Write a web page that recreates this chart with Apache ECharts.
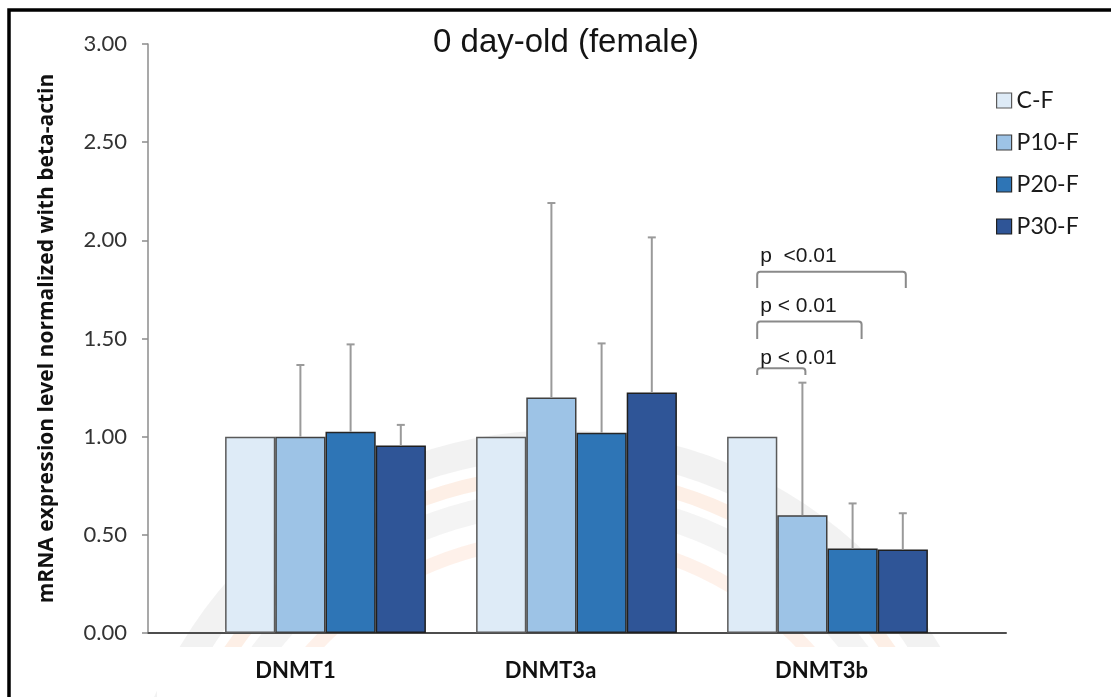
<!DOCTYPE html>
<html>
<head>
<meta charset="utf-8">
<title>0 day-old (female)</title>
<script src="https://cdn.jsdelivr.net/npm/echarts@6/dist/echarts.min.js"></script>
<style>
  html, body { margin: 0; padding: 0; background: #fff; }
  #chart { width: 1111px; height: 697px; }
</style>
</head>
<body>
<div id="chart"></div>
<script>
// Genes on the x axis
const categories = ['DNMT1', 'DNMT3a', 'DNMT3b'];
// Treatment groups (female, day 0)
const groupNames = ['C-F', 'P10-F', 'P20-F', 'P30-F'];

// Mean relative mRNA expression (normalized to beta-actin)
const meanCF  = [1.00, 1.00, 1.00];
const meanP10 = [1.00, 1.20, 0.60];
const meanP20 = [1.025, 1.02, 0.43];
const meanP30 = [0.955, 1.225, 0.425];

// Upper error (SD) for each bar
const sdCF  = [0, 0, 0];
const sdP10 = [0.365, 0.99, 0.675];
const sdP20 = [0.445, 0.455, 0.23];
const sdP30 = [0.105, 0.79, 0.185];

// Significance brackets within DNMT3b: control vs group, bracket level, foot level, label
const bracketTo    = [3, 2, 1];
const bracketLevel = [1.84, 1.586, 1.348];
const bracketFoot  = [1.757, 1.497, 1.314];
const bracketText  = ['p  <0.01', 'p < 0.01', 'p < 0.01'];

// Y axis range
const yMin = 0, yMax = 3, yStep = 0.5;

const means = [meanCF, meanP10, meanP20, meanP30];
const sds = [sdCF, sdP10, sdP20, sdP30];
const colors = ['#deebf7', '#9dc3e6', '#2e75b6', '#2f5597'];
const borders = ['#5a5a5a', '#404040', '#262626', '#1f1f1f'];

// x-label nudges (px) so each gene name sits where it is printed
const labelShift = [-30, -26, -6];

const chart = echarts.init(document.getElementById('chart'));

function barCenterX(api, cat, slot) {
  const c = api.coord([cat, 0])[0];
  const band = api.size([1, 0])[0];
  const bw = band * 0.8 / 4;
  return c + (slot - 1.5) * bw;
}

const barSeries = groupNames.map((name, i) => ({
  name: name,
  type: 'bar',
  xAxisIndex: 0,
  yAxisIndex: 0,
  barGap: '0%',
  barCategoryGap: '20%',
  data: means[i],
  itemStyle: { color: colors[i], borderColor: borders[i], borderWidth: 1.5 },
  z: 2
}));

const errData = [];
for (let s = 0; s < 4; s++) {
  for (let c = 0; c < categories.length; c++) {
    if (sds[s][c] > 0) errData.push([c, means[s][c], means[s][c] + sds[s][c], s]);
  }
}

const errorSeries = {
  type: 'custom',
  name: 'err',
  xAxisIndex: 0,
  yAxisIndex: 0,
  data: errData,
  z: 4,
  silent: true,
  encode: { x: 0, y: [1, 2] },
  renderItem: function (params, api) {
    const cat = api.value(0);
    const slot = api.value(3);
    const x = barCenterX(api, cat, slot);
    const yLow = api.coord([cat, api.value(1)])[1];
    const yHigh = api.coord([cat, api.value(2)])[1];
    const st = { stroke: '#9a9a9a', lineWidth: 2 };
    return {
      type: 'group',
      children: [
        { type: 'line', shape: { x1: x, y1: yLow, x2: x, y2: yHigh }, style: st },
        { type: 'line', shape: { x1: x - 4, y1: yHigh, x2: x + 4, y2: yHigh }, style: st }
      ]
    };
  }
};

const bracketData = bracketTo.map((to, i) => [2, bracketLevel[i], bracketFoot[i], to, i]);
const bracketSeries = {
  type: 'custom',
  name: 'brackets',
  xAxisIndex: 0,
  yAxisIndex: 0,
  data: bracketData,
  z: 5,
  silent: true,
  encode: { x: 0, y: [1, 2] },
  renderItem: function (params, api) {
    const cat = api.value(0);
    const to = api.value(3);
    const idx = api.value(4);
    const xL = barCenterX(api, cat, 0) + 5;
    const xR = barCenterX(api, cat, to) + (to === 2 ? 9 : 3);
    const yTop = api.coord([cat, api.value(1)])[1];
    const yFoot = api.coord([cat, api.value(2)])[1];
    const r = 3;
    return {
      type: 'group',
      children: [
        {
          type: 'path',
          shape: {
            pathData: 'M' + xL + ' ' + yFoot + ' L' + xL + ' ' + (yTop + r) +
              ' Q' + xL + ' ' + yTop + ' ' + (xL + r) + ' ' + yTop +
              ' L' + (xR - r) + ' ' + yTop +
              ' Q' + xR + ' ' + yTop + ' ' + xR + ' ' + (yTop + r) +
              ' L' + xR + ' ' + yFoot
          },
          style: { stroke: '#8a8a8a', lineWidth: 2, fill: null }
        },
        {
          type: 'text',
          style: {
            text: bracketText[idx],
            x: xL + 3,
            y: yTop - (idx === 2 ? 0 : 5),
            textVerticalAlign: 'bottom',
            verticalAlign: 'bottom',
            fontFamily: 'Liberation Sans, Arial, sans-serif',
            fontSize: 21,
            fill: '#1a1a1a'
          }
        }
      ]
    };
  }
};

const option = {
  animation: false,
  backgroundColor: '#ffffff',
  title: {
    text: '0 day-old (female)',
    left: 561,
    textAlign: 'center',
    top: 21,
    textStyle: { fontFamily: 'Liberation Sans, Arial, sans-serif', fontSize: 33, fontWeight: 'normal', color: '#141414' }
  },
  legend: {
    data: groupNames,
    orient: 'vertical',
    left: 991,
    top: 84,
    itemWidth: 15,
    itemHeight: 15,
    itemGap: 19,
    icon: 'rect',
    itemStyle: { borderWidth: 1.2 },
    textStyle: { fontFamily: 'Lato, sans-serif', fontSize: 23, color: '#1a1a1a' }
  },
  graphic: [
    // faint seal in the background
    { type: 'ring', z: -20, shape: { cx: 560, cy: 872, r: 442, r0: 414 }, style: { fill: 'rgba(205,205,205,0.25)' }, silent: true },
    { type: 'ring', z: -20, shape: { cx: 560, cy: 872, r: 404, r0: 390 }, style: { fill: 'rgba(248,180,140,0.22)' }, silent: true },
    { type: 'ring', z: -20, shape: { cx: 560, cy: 872, r: 382, r0: 358 }, style: { fill: 'rgba(205,205,205,0.22)' }, silent: true },
    { type: 'ring', z: -20, shape: { cx: 560, cy: 872, r: 340, r0: 326 }, style: { fill: 'rgba(248,180,140,0.18)' }, silent: true },
    // white panel under the gene names
    { type: 'rect', z: -10, shape: { x: 157, y: 647, width: 850, height: 60 }, style: { fill: '#ffffff' }, silent: true },
    // outer frame
    { type: 'rect', z: 100, shape: { x: 9, y: 10, width: 1300, height: 1000 }, style: { fill: null, stroke: '#000000', lineWidth: 3.5 }, silent: true }
  ],
  grid: [
    { left: 200, right: 158, top: 44, bottom: 64 },
    { left: 148, right: 105, top: 44, bottom: 64 }
  ],
  xAxis: [
    {
      type: 'category',
      gridIndex: 0,
      data: categories,
      axisLine: { show: false },
      axisTick: { show: false },
      axisLabel: {
        margin: 27,
        formatter: function (v, i) { return '{s' + i + '|' + v + '}'; },
        rich: {
          s0: { fontFamily: 'Lato, sans-serif', fontWeight: 'bold', fontSize: 22, color: '#111', padding: [0, -2 * labelShift[0], 0, 0] },
          s1: { fontFamily: 'Lato, sans-serif', fontWeight: 'bold', fontSize: 22, color: '#111', padding: [0, -2 * labelShift[1], 0, 0] },
          s2: { fontFamily: 'Lato, sans-serif', fontWeight: 'bold', fontSize: 22, color: '#111', padding: [0, -2 * labelShift[2], 0, 0] }
        }
      }
    },
    {
      type: 'category',
      gridIndex: 1,
      data: [''],
      axisLine: { show: true, lineStyle: { color: '#4d4d4d', width: 2 } },
      axisTick: { show: false },
      axisLabel: { show: false }
    }
  ],
  yAxis: [
    { type: 'value', gridIndex: 0, min: yMin, max: yMax, interval: yStep, show: false },
    {
      type: 'value',
      gridIndex: 1,
      min: yMin,
      max: yMax,
      interval: yStep,
      name: 'mRNA expression level normalized with beta-actin',
      nameLocation: 'middle',
      nameGap: 90,
      nameTextStyle: { fontFamily: 'Open Sans, sans-serif', fontWeight: 'bold', fontSize: 21, color: '#111' },
      axisLine: { show: true, lineStyle: { color: '#8c8c8c', width: 1.5 } },
      axisTick: { show: true, length: 6, lineStyle: { color: '#8c8c8c', width: 1.5 } },
      splitLine: { show: false },
      axisLabel: {
        margin: 21,
        fontFamily: 'Lato, sans-serif',
        fontSize: 22,
        color: '#333',
        formatter: function (v) { return v.toFixed(2); }
      }
    }
  ],
  series: barSeries.concat([errorSeries, bracketSeries])
};

chart.setOption(option);
</script>
</body>
</html>
